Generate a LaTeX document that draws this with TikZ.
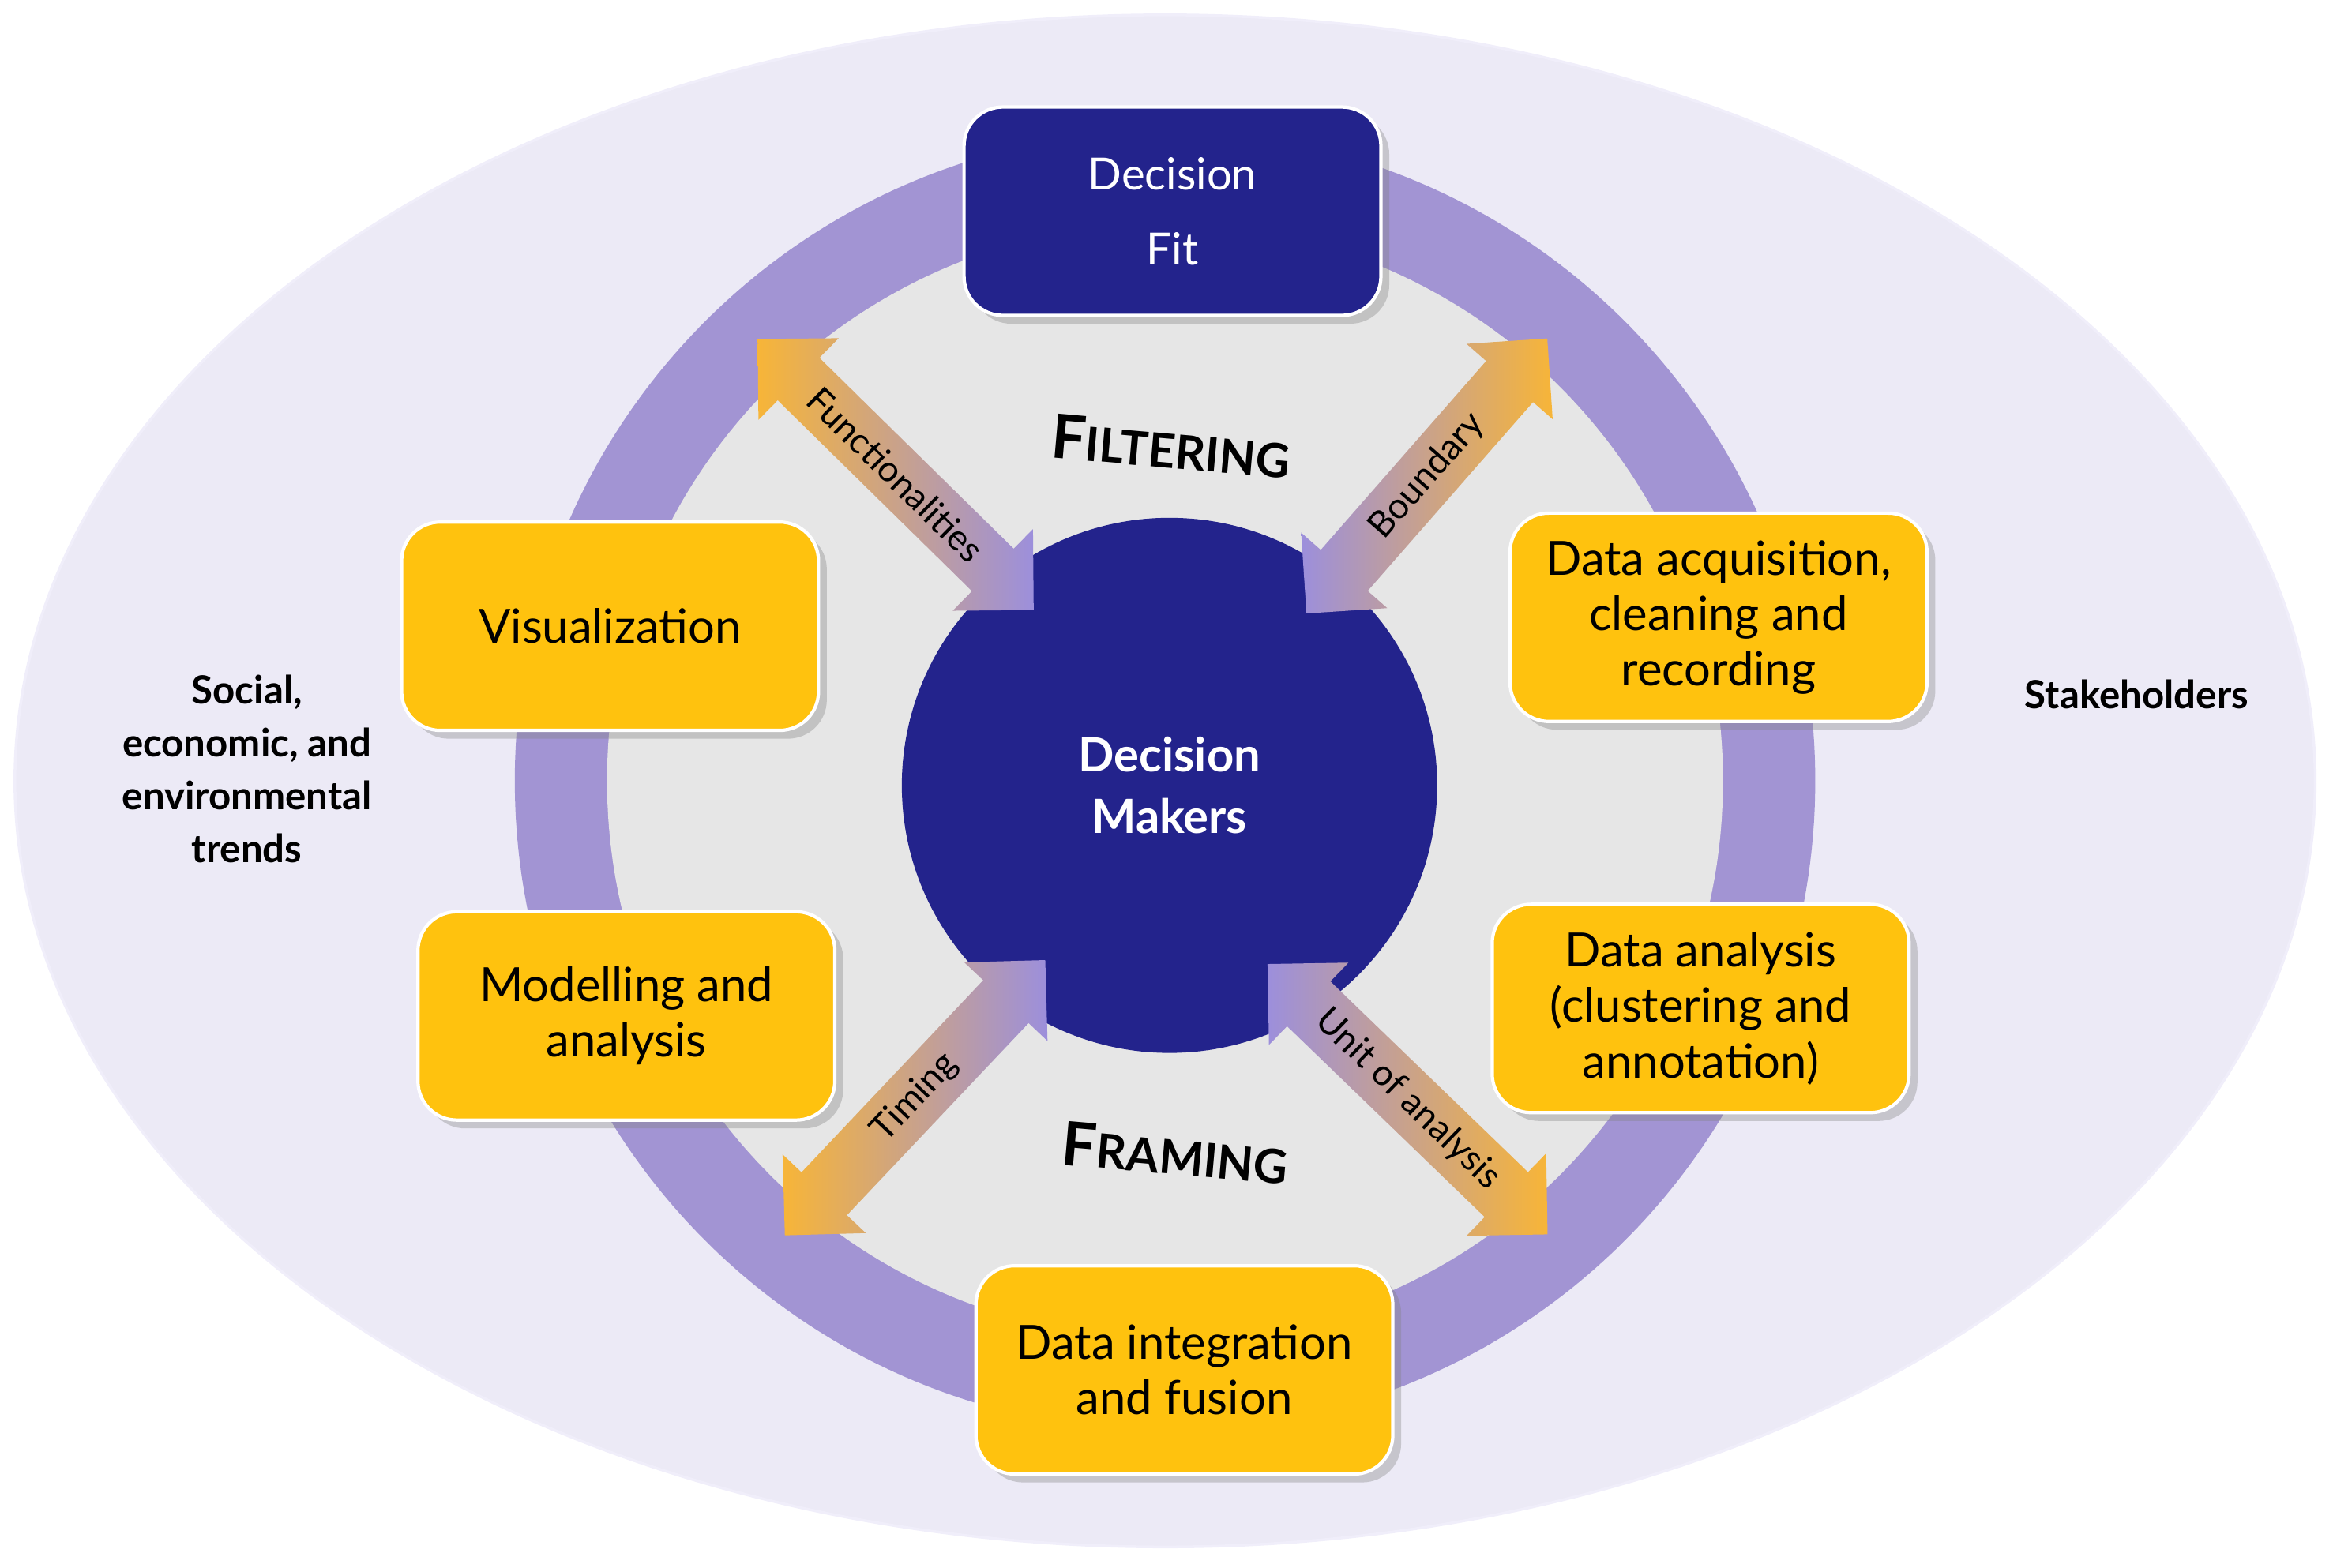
\documentclass[tikz,border=0pt]{standalone}
\usepackage{fontspec}
\setmainfont{Lato}
\usetikzlibrary{shapes.arrows,shadows}
\definecolor{outerbg}{HTML}{ECEAF6}
\definecolor{ringc}{HTML}{A294D3}
\definecolor{innerbg}{HTML}{E6E6E6}
\definecolor{navy}{HTML}{23238C}
\definecolor{gold}{HTML}{FFC20E}
\definecolor{orng}{HTML}{F7B538}
\definecolor{lav}{HTML}{9C8FDC}
\newcommand{\fakesc}[2]{{\fontsize{22}{24}\selectfont #1}{\fontsize{17}{24}\selectfont #2}}
\begin{document}
\begin{tikzpicture}[x=0.01884cm,y=-0.01884cm,
  box/.style={rounded corners=14pt,fill=gold,draw=white,line width=1.2pt,minimum width=5.28cm,minimum height=2.64cm,align=center,font=\fontsize{17}{20}\selectfont,text=black,drop shadow={opacity=0.35,shadow xshift=3pt,shadow yshift=-3pt}},
  arr/.style={double arrow,double arrow head extend=0.33cm,minimum width=1.45cm,inner ysep=0.18cm,inner xsep=0pt,font=\fontsize{13}{15}\selectfont,text=black,anchor=center},
  side/.style={font=\bfseries\fontsize{14}{19}\selectfont,align=center}]
\useasboundingbox (0,0) rectangle (1568,1054);
\fill[outerbg] (783,525) ellipse [x radius=773, y radius=515];
\draw[white!85!lav,line width=1pt] (783,525) ellipse [x radius=773, y radius=515];
\fill[ringc] (783,525) circle [radius=437];
\fill[innerbg] (783,525) circle [radius=375];
\node[circle,fill=navy,minimum size=6.78cm,align=center,text=white,font=\bfseries\fontsize{17}{22}\selectfont] (dm) at (786,528) {Decision\\Makers};
\node[box,fill=navy,text=white,font=\fontsize{16}{27}\selectfont] (fit) at (788,142) {Decision\\Fit};
\node[box] (vis) at (410,421) {Visualization};
\node[box] (acq) at (1155,415) {Data acquisition,\\cleaning and\\recording};
\node[box] (mod) at (421,683) {Modelling and\\analysis};
\node[box] (ana) at (1143,678) {Data analysis\\(clustering and\\annotation)};
\node[box] (int) at (796,921) {Data integration\\and fusion};
\node[arr,minimum height=4.9cm,rotate=-44.5,left color=orng,right color=lav] (a1) at (602,319) {Functionalities};
\node[arr,minimum height=4.63cm,rotate=48.8,right color=orng,left color=lav] (a2) at (959,320) {Boundary};
\node[arr,minimum height=4.8cm,rotate=46.6,left color=orng,right color=lav] (a3) at (615,738) {Timing};
\node[arr,minimum height=4.93cm,rotate=-44,right color=orng,left color=lav] (a4) at (946,739) {Unit of analysis};
\node[font=\bfseries,rotate=-5] (filt) at (787,300) {\fakesc{F}{ILTERING}};
\node[font=\bfseries,rotate=-5] (fram) at (790,775) {\fakesc{F}{RAMING}};
\node[side] (soc) at (166,517) {Social,\\economic, and\\environmental\\trends};
\node[side] (stk) at (1436,467) {Stakeholders};
\end{tikzpicture}
\end{document}
